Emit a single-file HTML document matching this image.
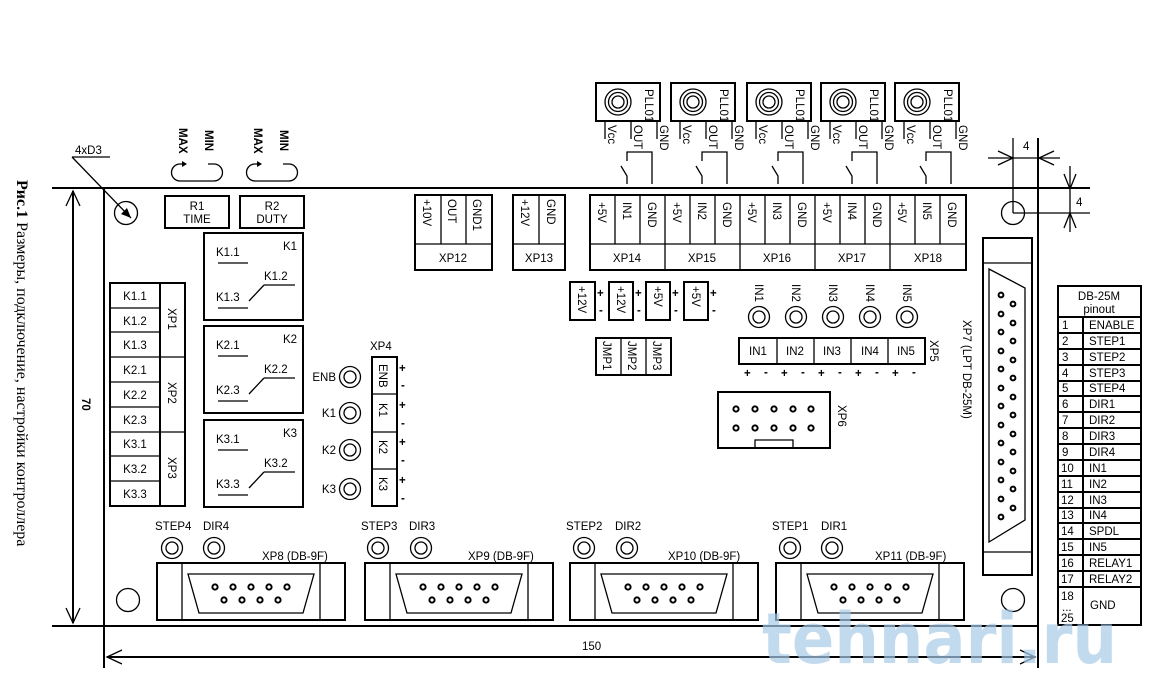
<!DOCTYPE html>
<html><head><meta charset="utf-8"><style>
body{margin:0;background:#fff}
svg{display:block}
text{font-family:"Liberation Sans",sans-serif;font-size:11.5px;fill:#000}
.s{stroke:#000;stroke-width:2;fill:none}
.t{stroke:#000;stroke-width:1.3;fill:none}
.b{stroke:#000;stroke-width:2.5;fill:#fff}
</style></head><body>
<svg width="1164" height="695" viewBox="0 0 1164 695" xmlns="http://www.w3.org/2000/svg">
<defs>
<g id="led"><circle r="10.5" class="t" stroke-width="1.6"/><circle r="6" class="t"/></g>
<g id="pll">
<rect x="0" y="0" width="64" height="38" class="s"/>
<circle cx="22" cy="19" r="13" class="t" stroke-width="1.8"/><circle cx="22" cy="19" r="9.5" class="t"/><circle cx="22" cy="19" r="6" class="t"/>
<text transform="translate(49,6) rotate(90)" font-size="8">PLL01</text>
<line x1="9" y1="38" x2="9" y2="56" class="t"/><line x1="35" y1="38" x2="35" y2="56" class="t"/><line x1="61" y1="38" x2="61" y2="56" class="t"/>
<text transform="translate(12,42) rotate(90)" font-size="7.5">Vcc</text>
<text transform="translate(38,42) rotate(90)" font-size="7.5">OUT</text>
<text transform="translate(64,42) rotate(90)" font-size="7.5">GND</text>
<path d="M31 101 L31 93 L25 83 M31 78 L31 69 L56 69 L56 101" class="t" stroke-width="1.6"/>
</g>
<g id="kbox">
<rect x="0" y="0" width="99" height="87" class="s"/>
<line x1="14" y1="30" x2="44" y2="30" class="t" stroke-width="2"/>
<line x1="60" y1="52" x2="91" y2="52" class="t" stroke-width="2.5"/>
<line x1="14" y1="75" x2="44" y2="75" class="t" stroke-width="2"/>
<line x1="45" y1="68" x2="60" y2="52" class="t"/>
</g>
<g id="db9">
<rect x="0" y="0" width="188" height="57" class="s"/>
<line x1="25" y1="0" x2="25" y2="57" class="t"/><line x1="163" y1="0" x2="163" y2="57" class="t"/>
<path d="M31 11 L157 11 L146 50 L42 50 Z" class="t" stroke-width="1.6"/>
<g fill="none" stroke="#000" stroke-width="2">
<circle cx="58" cy="24" r="2.6"/><circle cx="76" cy="24" r="2.6"/><circle cx="94" cy="24" r="2.6"/><circle cx="112" cy="24" r="2.6"/><circle cx="130" cy="24" r="2.6"/>
<circle cx="67" cy="37" r="2.6"/><circle cx="85" cy="37" r="2.6"/><circle cx="103" cy="37" r="2.6"/><circle cx="121" cy="37" r="2.6"/>
</g></g>
<g id="rot">
<path d="M14 0 L8 0 A8.5 8.5 0 0 0 8 17 L42 17 A8.5 8.5 0 0 0 42 0 L36 0" class="t" stroke-width="1.6"/>
<path d="M15 0 L10 -3 L10 3 Z" fill="#000"/>
</g>
</defs>

<!-- caption -->
<text transform="translate(17,180) rotate(90)" style="font-family:'Liberation Serif',serif;font-size:16px"><tspan font-weight="bold">Рис.1</tspan> Размеры, подключение, настройки контроллера</text>

<!-- board outline and dimensions -->
<line x1="52" y1="188" x2="1090" y2="188" class="s"/>
<line x1="104" y1="188" x2="104" y2="668" class="s"/>
<line x1="1038" y1="138" x2="1038" y2="668" class="s"/>
<line x1="52" y1="626" x2="1038" y2="626" class="s"/>
<line x1="73" y1="191" x2="73" y2="623" class="s"/>
<path d="M66 206 L73 191 L80 206 M66 608 L73 623 L80 608" class="t" stroke-width="1.6"/>
<text transform="translate(82,398) rotate(90)" font-weight="bold">70</text>
<line x1="107" y1="657" x2="1035" y2="657" class="s"/>
<path d="M122 650 L107 657 L122 664 M1020 650 L1035 657 L1020 664" class="t" stroke-width="1.6"/>
<text x="582" y="650">150</text>

<!-- right top dims -->
<line x1="1013" y1="138" x2="1013" y2="213" class="t" stroke-width="1.8"/>
<line x1="1013" y1="213" x2="1090" y2="213" class="t" stroke-width="1.8"/>
<line x1="988" y1="158" x2="1060" y2="158" class="t"/>
<path d="M998 151 L1013 158 L998 165 M1054 151 L1039 158 L1054 165" class="t"/>
<text x="1023" y="150" font-size="10">4</text>
<line x1="1070" y1="166" x2="1070" y2="232" class="t"/>
<path d="M1064 174 L1070 189 L1076 174 M1064 228 L1070 213 L1076 228" class="t"/>
<text x="1076" y="206" font-size="10">4</text>

<!-- holes -->
<circle cx="126" cy="213" r="11.5" class="t" stroke-width="1.6"/>
<circle cx="1013" cy="213" r="11.5" class="t" stroke-width="1.6"/>
<circle cx="128" cy="600" r="11.5" class="t" stroke-width="1.6"/>
<circle cx="1013" cy="600" r="11.5" class="t" stroke-width="1.6"/>
<text x="75" y="154" font-size="10.5">4xD3</text>
<path d="M72 157 L110 157 M72 157 L131 218" class="t"/>
<path d="M127 208 L131 218 L121 214 Z" fill="#000"/>

<!-- R1 R2 -->
<use href="#rot" x="172" y="164"/><use href="#rot" x="247" y="164"/>
<text transform="translate(179,128) rotate(90)" font-size="10" font-weight="bold">MAX</text>
<text transform="translate(205,130) rotate(90)" font-size="10" font-weight="bold">MIN</text>
<text transform="translate(254,128) rotate(90)" font-size="10" font-weight="bold">MAX</text>
<text transform="translate(280,130) rotate(90)" font-size="10" font-weight="bold">MIN</text>
<rect x="165" y="196" width="64" height="32" class="s"/>
<rect x="240" y="196" width="64" height="32" class="s"/>
<text x="197" y="210" text-anchor="middle">R1</text><text x="197" y="223" text-anchor="middle">TIME</text>
<text x="272" y="210" text-anchor="middle">R2</text><text x="272" y="223" text-anchor="middle">DUTY</text>

<!-- K boxes -->
<use href="#kbox" x="204" y="233"/><use href="#kbox" x="204" y="326"/><use href="#kbox" x="204" y="420"/>
<g>
<text x="283" y="250">K1</text><text x="216" y="256">K1.1</text><text x="264" y="280">K1.2</text><text x="216" y="301">K1.3</text>
<text x="283" y="343">K2</text><text x="216" y="349">K2.1</text><text x="264" y="373">K2.2</text><text x="216" y="394">K2.3</text>
<text x="283" y="437">K3</text><text x="216" y="443">K3.1</text><text x="264" y="467">K3.2</text><text x="216" y="488">K3.3</text>
</g>

<!-- XP1-3 -->
<rect x="110" y="283" width="75" height="223" class="s"/>
<line x1="160" y1="283" x2="160" y2="506" class="s"/>
<g class="t" stroke-width="1.8">
<line x1="110" y1="308" x2="160" y2="308"/><line x1="110" y1="332" x2="160" y2="332"/>
<line x1="110" y1="357" x2="185" y2="357"/><line x1="110" y1="382" x2="160" y2="382"/>
<line x1="110" y1="407" x2="160" y2="407"/><line x1="110" y1="432" x2="185" y2="432"/>
<line x1="110" y1="456" x2="160" y2="456"/><line x1="110" y1="481" x2="160" y2="481"/>
</g>
<g text-anchor="middle">
<text x="135" y="300">K1.1</text><text x="135" y="325">K1.2</text><text x="135" y="349">K1.3</text>
<text x="135" y="374">K2.1</text><text x="135" y="399">K2.2</text><text x="135" y="424">K2.3</text>
<text x="135" y="448">K3.1</text><text x="135" y="473">K3.2</text><text x="135" y="498">K3.3</text>
</g>
<text transform="translate(168,308) rotate(90)">XP1</text>
<text transform="translate(168,382) rotate(90)">XP2</text>
<text transform="translate(168,457) rotate(90)">XP3</text>

<!-- XP4 + LEDs -->
<text x="370" y="350">XP4</text>
<rect x="372" y="357" width="25" height="149" class="s"/>
<line x1="372" y1="394" x2="397" y2="394" class="t" stroke-width="1.8"/>
<line x1="372" y1="432" x2="397" y2="432" class="t" stroke-width="1.8"/>
<line x1="372" y1="469" x2="397" y2="469" class="t" stroke-width="1.8"/>
<text transform="translate(379,364) rotate(90)" font-size="10">ENB</text>
<text transform="translate(379,403) rotate(90)">K1</text>
<text transform="translate(379,440) rotate(90)">K2</text>
<text transform="translate(379,477) rotate(90)">K3</text>
<g font-size="12" font-weight="bold"><text x="399" y="372">+</text><text x="401" y="389">-</text><text x="399" y="409">+</text><text x="401" y="427">-</text><text x="399" y="446">+</text><text x="401" y="464">-</text><text x="399" y="484">+</text><text x="401" y="502">-</text></g>
<use href="#led" x="350" y="377"/><use href="#led" x="350" y="413"/><use href="#led" x="350" y="450"/><use href="#led" x="350" y="489"/>
<g text-anchor="end"><text x="336" y="381">ENB</text><text x="336" y="417">K1</text><text x="336" y="454">K2</text><text x="336" y="493">K3</text></g>

<!-- PLL sensors -->
<use href="#pll" x="596" y="83"/><use href="#pll" x="671" y="83"/><use href="#pll" x="747" y="83"/><use href="#pll" x="821" y="83"/><use href="#pll" x="895" y="83"/>

<!-- XP12, XP13 -->
<rect x="415" y="195" width="77" height="75" class="s"/>
<line x1="415" y1="244" x2="492" y2="244" class="t" stroke-width="1.8"/>
<line x1="441" y1="195" x2="441" y2="244" class="t"/><line x1="466" y1="195" x2="466" y2="244" class="t"/>
<text transform="translate(423,199) rotate(90)">+10V</text>
<text transform="translate(448,199) rotate(90)">OUT</text>
<text transform="translate(473,199) rotate(90)">GND1</text>
<text x="453" y="262" text-anchor="middle">XP12</text>
<rect x="513" y="195" width="52" height="75" class="s"/>
<line x1="513" y1="244" x2="565" y2="244" class="t" stroke-width="1.8"/>
<line x1="539" y1="195" x2="539" y2="244" class="t"/>
<text transform="translate(521,199) rotate(90)">+12V</text>
<text transform="translate(547,199) rotate(90)">GND</text>
<text x="539" y="262" text-anchor="middle">XP13</text>

<!-- XP14-18 -->
<rect x="590" y="195" width="376" height="75" class="s"/>
<line x1="590" y1="244" x2="966" y2="244" class="t" stroke-width="1.8"/>
<g class="t">
<line x1="615" y1="195" x2="615" y2="244"/><line x1="640" y1="195" x2="640" y2="244"/><line x1="665" y1="195" x2="665" y2="270"/>
<line x1="690" y1="195" x2="690" y2="244"/><line x1="715" y1="195" x2="715" y2="244"/><line x1="740" y1="195" x2="740" y2="270"/>
<line x1="765" y1="195" x2="765" y2="244"/><line x1="790" y1="195" x2="790" y2="244"/><line x1="815" y1="195" x2="815" y2="270"/>
<line x1="840" y1="195" x2="840" y2="244"/><line x1="865" y1="195" x2="865" y2="244"/><line x1="890" y1="195" x2="890" y2="270"/>
<line x1="915" y1="195" x2="915" y2="244"/><line x1="940" y1="195" x2="940" y2="244"/>
</g>
<g>
<text transform="translate(598,202) rotate(90)">+5V</text><text transform="translate(623,202) rotate(90)">IN1</text><text transform="translate(648,202) rotate(90)">GND</text>
<text transform="translate(673,202) rotate(90)">+5V</text><text transform="translate(698,202) rotate(90)">IN2</text><text transform="translate(723,202) rotate(90)">GND</text>
<text transform="translate(748,202) rotate(90)">+5V</text><text transform="translate(773,202) rotate(90)">IN3</text><text transform="translate(798,202) rotate(90)">GND</text>
<text transform="translate(823,202) rotate(90)">+5V</text><text transform="translate(848,202) rotate(90)">IN4</text><text transform="translate(873,202) rotate(90)">GND</text>
<text transform="translate(898,202) rotate(90)">+5V</text><text transform="translate(923,202) rotate(90)">IN5</text><text transform="translate(948,202) rotate(90)">GND</text>
</g>
<g text-anchor="middle"><text x="627" y="262">XP14</text><text x="702" y="262">XP15</text><text x="777" y="262">XP16</text><text x="852" y="262">XP17</text><text x="928" y="262">XP18</text></g>

<!-- power jumpers -->
<rect x="570" y="282" width="25" height="38" class="s"/><rect x="609" y="282" width="24" height="38" class="s"/>
<rect x="646" y="282" width="24" height="38" class="s"/><rect x="684" y="282" width="24" height="38" class="s"/>
<text transform="translate(578,286) rotate(90)">+12V</text><text transform="translate(617,286) rotate(90)">+12V</text>
<text transform="translate(654,286) rotate(90)">+5V</text><text transform="translate(692,286) rotate(90)">+5V</text>
<g font-size="12" font-weight="bold"><text x="597" y="297">+</text><text x="599" y="314">-</text><text x="635" y="297">+</text><text x="637" y="314">-</text><text x="672" y="297">+</text><text x="674" y="314">-</text><text x="710" y="297">+</text><text x="712" y="314">-</text></g>
<rect x="596" y="338" width="75" height="37" class="s"/>
<line x1="621" y1="338" x2="621" y2="375" class="t"/><line x1="646" y1="338" x2="646" y2="375" class="t"/>
<text transform="translate(603,341) rotate(90)" font-size="10">JMP1</text>
<text transform="translate(628,341) rotate(90)" font-size="10">JMP2</text>
<text transform="translate(653,341) rotate(90)" font-size="10">JMP3</text>

<!-- IN LEDs -->
<use href="#led" x="759" y="317"/><use href="#led" x="796" y="317"/><use href="#led" x="833" y="317"/><use href="#led" x="870" y="317"/><use href="#led" x="907" y="317"/>
<text transform="translate(755,284) rotate(90)">IN1</text><text transform="translate(792,284) rotate(90)">IN2</text>
<text transform="translate(829,284) rotate(90)">IN3</text><text transform="translate(866,284) rotate(90)">IN4</text><text transform="translate(903,284) rotate(90)">IN5</text>
<rect x="739" y="338" width="186" height="26" class="s"/>
<line x1="777" y1="338" x2="777" y2="364" class="t"/><line x1="814" y1="338" x2="814" y2="364" class="t"/>
<line x1="851" y1="338" x2="851" y2="364" class="t"/><line x1="888" y1="338" x2="888" y2="364" class="t"/>
<g text-anchor="middle"><text x="758" y="355">IN1</text><text x="795" y="355">IN2</text><text x="832" y="355">IN3</text><text x="870" y="355">IN4</text><text x="906" y="355">IN5</text></g>
<text transform="translate(930,340) rotate(90)">XP5</text>
<g font-size="12" font-weight="bold">
<text x="744" y="377">+</text><text x="764" y="376">-</text><text x="781" y="377">+</text><text x="801" y="376">-</text><text x="818" y="377">+</text><text x="838" y="376">-</text><text x="855" y="377">+</text><text x="875" y="376">-</text><text x="892" y="377">+</text><text x="912" y="376">-</text>
</g>

<!-- XP6 -->
<rect x="718" y="392" width="112" height="56" class="s"/>
<path d="M755 448 L755 440 L793 440 L793 448" class="t"/>
<g fill="none" stroke="#000" stroke-width="2">
<circle cx="736" cy="409" r="2.6"/><circle cx="755" cy="409" r="2.6"/><circle cx="774" cy="409" r="2.6"/><circle cx="793" cy="409" r="2.6"/><circle cx="811" cy="409" r="2.6"/>
<circle cx="736" cy="428" r="2.6"/><circle cx="755" cy="428" r="2.6"/><circle cx="774" cy="428" r="2.6"/><circle cx="793" cy="428" r="2.6"/><circle cx="811" cy="428" r="2.6"/>
</g>
<text transform="translate(838,405) rotate(90)">XP6</text>

<!-- XP7 -->
<rect x="983" y="238" width="49" height="337" class="s"/>
<line x1="983" y1="263" x2="1032" y2="263" class="t"/><line x1="983" y1="552" x2="1032" y2="552" class="t"/>
<path d="M989 269 L1025 288 L1025 520 L989 542 Z" class="t" stroke-width="1.6"/>
<g fill="none" stroke="#000" stroke-width="2">
<circle cx="1001" cy="295" r="2.4"/><circle cx="1001" cy="314" r="2.4"/><circle cx="1001" cy="332" r="2.4"/><circle cx="1001" cy="351" r="2.4"/><circle cx="1001" cy="369" r="2.4"/><circle cx="1001" cy="388" r="2.4"/><circle cx="1001" cy="406" r="2.4"/><circle cx="1001" cy="425" r="2.4"/><circle cx="1001" cy="443" r="2.4"/><circle cx="1001" cy="462" r="2.4"/><circle cx="1001" cy="480" r="2.4"/><circle cx="1001" cy="499" r="2.4"/><circle cx="1001" cy="517" r="2.4"/>
<circle cx="1013" cy="304" r="2.4"/><circle cx="1013" cy="323" r="2.4"/><circle cx="1013" cy="341" r="2.4"/><circle cx="1013" cy="360" r="2.4"/><circle cx="1013" cy="378" r="2.4"/><circle cx="1013" cy="397" r="2.4"/><circle cx="1013" cy="415" r="2.4"/><circle cx="1013" cy="434" r="2.4"/><circle cx="1013" cy="452" r="2.4"/><circle cx="1013" cy="471" r="2.4"/><circle cx="1013" cy="489" r="2.4"/><circle cx="1013" cy="508" r="2.4"/>
</g>
<text transform="translate(963,320) rotate(90)" font-size="12">XP7 (LPT DB-25M)</text>

<!-- pinout table -->
<rect x="1058" y="286" width="83" height="339" class="s" stroke-width="2.5"/>
<line x1="1058" y1="317" x2="1141" y2="317" class="s"/>
<line x1="1083" y1="317" x2="1083" y2="625" class="s"/>
<text x="1099" y="300" text-anchor="middle">DB-25M</text><text x="1099" y="313" text-anchor="middle">pinout</text>
<g class="s" stroke-width="1.8">
<line x1="1058" y1="333" x2="1141" y2="333"/><line x1="1058" y1="349" x2="1141" y2="349"/><line x1="1058" y1="365" x2="1141" y2="365"/><line x1="1058" y1="381" x2="1141" y2="381"/><line x1="1058" y1="396" x2="1141" y2="396"/><line x1="1058" y1="412" x2="1141" y2="412"/><line x1="1058" y1="428" x2="1141" y2="428"/><line x1="1058" y1="444" x2="1141" y2="444"/><line x1="1058" y1="460" x2="1141" y2="460"/><line x1="1058" y1="476" x2="1141" y2="476"/><line x1="1058" y1="492" x2="1141" y2="492"/><line x1="1058" y1="508" x2="1141" y2="508"/><line x1="1058" y1="523" x2="1141" y2="523"/><line x1="1058" y1="539" x2="1141" y2="539"/><line x1="1058" y1="555" x2="1141" y2="555"/><line x1="1058" y1="571" x2="1141" y2="571"/><line x1="1058" y1="587" x2="1141" y2="587"/>
</g>
<g font-size="11">
<text x="1062" y="329">1</text><text x="1089" y="329">ENABLE</text>
<text x="1062" y="345">2</text><text x="1089" y="345">STEP1</text>
<text x="1062" y="361">3</text><text x="1089" y="361">STEP2</text>
<text x="1062" y="377">4</text><text x="1089" y="377">STEP3</text>
<text x="1062" y="392">5</text><text x="1089" y="392">STEP4</text>
<text x="1062" y="408">6</text><text x="1089" y="408">DIR1</text>
<text x="1062" y="424">7</text><text x="1089" y="424">DIR2</text>
<text x="1062" y="440">8</text><text x="1089" y="440">DIR3</text>
<text x="1062" y="456">9</text><text x="1089" y="456">DIR4</text>
<text x="1061" y="472">10</text><text x="1089" y="472">IN1</text>
<text x="1061" y="488">11</text><text x="1089" y="488">IN2</text>
<text x="1061" y="504">12</text><text x="1089" y="504">IN3</text>
<text x="1061" y="519">13</text><text x="1089" y="519">IN4</text>
<text x="1061" y="535">14</text><text x="1089" y="535">SPDL</text>
<text x="1061" y="551">15</text><text x="1089" y="551">IN5</text>
<text x="1061" y="567">16</text><text x="1089" y="567">RELAY1</text>
<text x="1061" y="583">17</text><text x="1089" y="583">RELAY2</text>
<text x="1061" y="600">18</text><text x="1062" y="611">...</text><text x="1061" y="622">25</text><text x="1090" y="609">GND</text>
</g>

<!-- bottom DB9 -->
<use href="#db9" x="157" y="563"/><use href="#db9" x="365" y="563"/><use href="#db9" x="570" y="563"/><use href="#db9" x="776" y="563"/>
<use href="#led" x="172" y="548"/><use href="#led" x="214" y="548"/>
<use href="#led" x="378" y="548"/><use href="#led" x="421" y="548"/>
<use href="#led" x="584" y="548"/><use href="#led" x="627" y="548"/>
<use href="#led" x="790" y="548"/><use href="#led" x="832" y="548"/>
<g font-size="11">
<text x="155" y="530">STEP4</text><text x="203" y="530">DIR4</text><text x="262" y="560">XP8 (DB-9F)</text>
<text x="361" y="530">STEP3</text><text x="409" y="530">DIR3</text><text x="468" y="560">XP9 (DB-9F)</text>
<text x="566" y="530">STEP2</text><text x="615" y="530">DIR2</text><text x="668" y="560">XP10 (DB-9F)</text>
<text x="772" y="530">STEP1</text><text x="821" y="530">DIR1</text><text x="875" y="560">XP11 (DB-9F)</text>
</g>

<!-- watermark -->
<text x="762" y="663" style="font-family:'DejaVu Sans',sans-serif;font-size:70px;font-weight:bold;fill:#a9cbe8;opacity:0.7" textLength="355" lengthAdjust="spacingAndGlyphs">tehnari.ru</text>
</svg>
</body></html>
